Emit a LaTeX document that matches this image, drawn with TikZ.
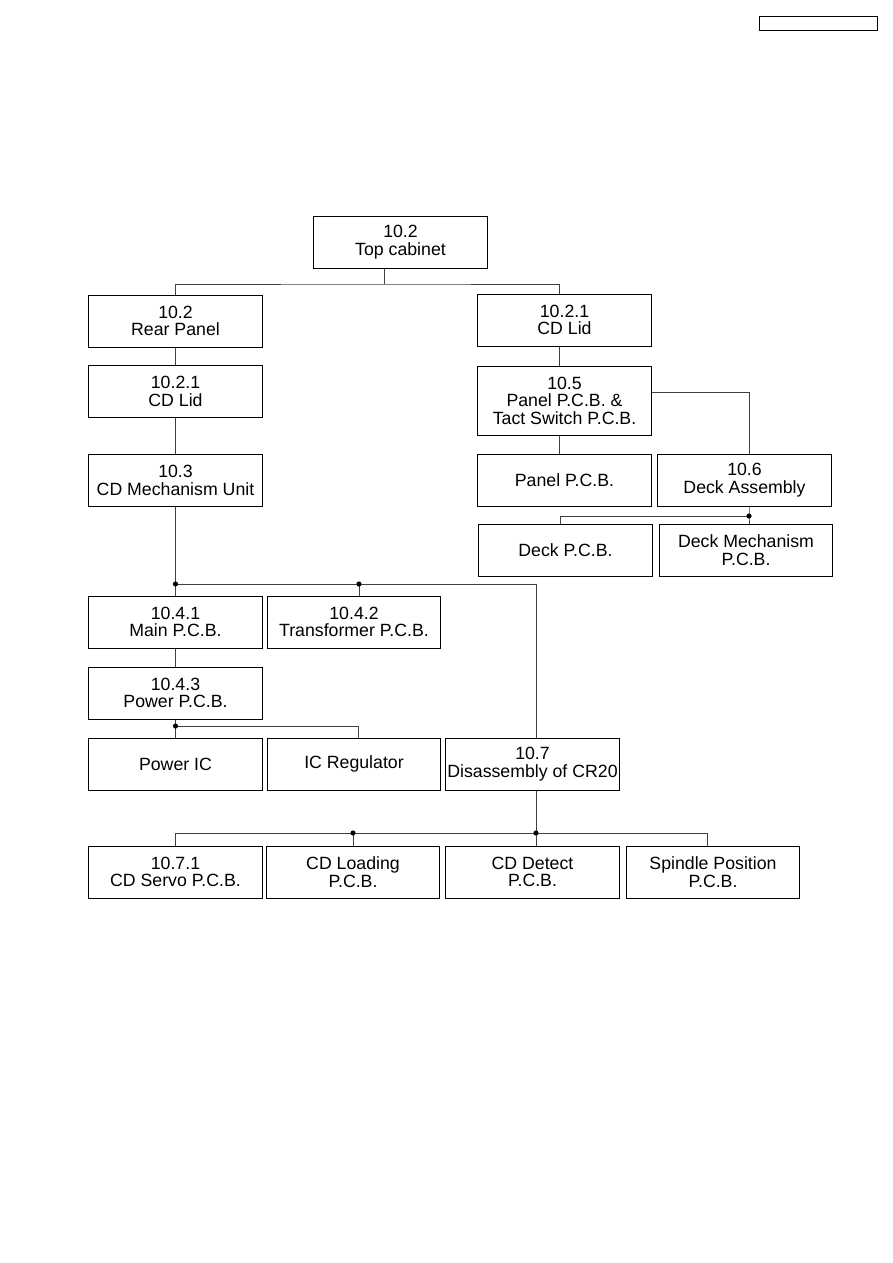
\documentclass[tikz,border=0pt]{standalone}
\usepackage{fontspec}
\setmainfont{Liberation Sans}
\usetikzlibrary{positioning}

\begin{document}
\begin{tikzpicture}[x=0.025cm, y=-0.025cm,
    font=\fontsize{12.6}{12.4}\selectfont,
    unit/.style={draw, line width=0.7pt, minimum width=4.325cm, minimum height=1.3cm,
      align=center, inner sep=1pt},
    link/.style={draw=black!75, line width=0.6pt},
    jdot/.style={fill=black, circle, inner sep=0pt, minimum size=0.13cm}]
  \useasboundingbox (0,0) rectangle (893,1263);
  \node[draw, line width=0.7pt, minimum width=2.95cm, minimum height=0.33cm] (pagebox) at (818,23.5) {};

  \node[unit] (top) at (400.5,242) {10.2\\Top cabinet};
  \node[unit] (rear) at (175.5,321) {10.2\\Rear Panel};
  \node[unit] (lidL) at (175.5,391.5) {10.2.1\\CD Lid};
  \node[unit] (mech) at (175.5,480.5) {10.3\\CD Mechanism Unit};
  \node[unit] (lidR) at (564.5,320) {10.2.1\\CD Lid};
  \node[unit, minimum height=1.725cm] (panelsw) at (564.5,400.5) {10.5\\Panel P.C.B. \&\\Tact Switch P.C.B.};
  \node[unit] (panel) at (564.5,480) {Panel P.C.B.};
  \node[unit] (deckasm) at (744.5,480) {10.6\\Deck Assembly};
  \node[unit] (deckpcb) at (565.5,550) {Deck P.C.B.};
  \node[unit] (deckmech) at (746,550) {Deck Mechanism\\P.C.B.};
  \node[unit] (main) at (175.5,622) {10.4.1\\Main P.C.B.};
  \node[unit] (trans) at (354,622) {10.4.2\\Transformer P.C.B.};
  \node[unit] (power) at (175.5,693) {10.4.3\\Power P.C.B.};
  \node[unit] (poweric) at (175.5,764) {Power IC};
  \node[unit] (icreg) at (354,764) {IC Regulator};
  \node[unit] (cr20) at (532.5,764) {10.7\\Disassembly of CR20};
  \node[unit] (servo) at (175.5,872) {10.7.1\\CD Servo P.C.B.};
  \node[unit] (loading) at (353,872) {CD Loading\\P.C.B.};
  \node[unit] (detect) at (532.5,872) {CD Detect\\P.C.B.};
  \node[unit] (spindle) at (713,872) {Spindle Position\\P.C.B.};

  \coordinate (j1) at (384,284);
  \coordinate (j2) at (175.5,584);
  \coordinate (j3) at (536,584);
  \coordinate (j4) at (359,584);
  \coordinate (j5) at (175.5,726);
  \coordinate (j6) at (358,726);
  \coordinate (j7) at (536,833);
  \coordinate (j8) at (353,833);
  \coordinate (j9) at (707,833);
  \coordinate (j10) at (749,516);
  \coordinate (j11) at (560,516);
  \coordinate (k1) at (749,392);
  \coordinate (rcol) at (559,0);

  \path[link] (j1 |- top.south) -- (j1);
  \path[link] (rear.north) |- (j1) -| (lidR.north -| rcol);
  \path[link] (rear) -- (lidL) -- (mech) -- (main) -- (power) -- (poweric);
  \path[link] (j2) -- (j3) -- (j3 |- cr20.north);
  \path[link] (j4) -- (j4 |- trans.north);
  \path[link] (j5) -- (j6) -- (j6 |- icreg.north);
  \path[link] (lidR.south -| rcol) -- (panelsw.north -| rcol);
  \path[link] (panelsw.south -| rcol) -- (panel.north -| rcol);
  \path[link] (panelsw.east |- k1) -- (k1) -- (k1 |- deckasm.north);
  \path[link] (j10 |- deckasm.south) -- (j10) -- (j10 |- deckmech.north);
  \path[link] (j10) -- (j11) -- (j11 |- deckpcb.north);
  \path[link] (j7 |- cr20.south) -- (j7);
  \path[link] (servo.north) |- (j9) -- (j9 |- spindle.north);
  \path[link] (j8) -- (loading.north);
  \path[link] (j7) -- (j7 |- detect.north);

  \foreach \j in {j2,j4,j5,j7,j8,j10}
    \node[jdot] at (\j) {};
\end{tikzpicture}
\end{document}
